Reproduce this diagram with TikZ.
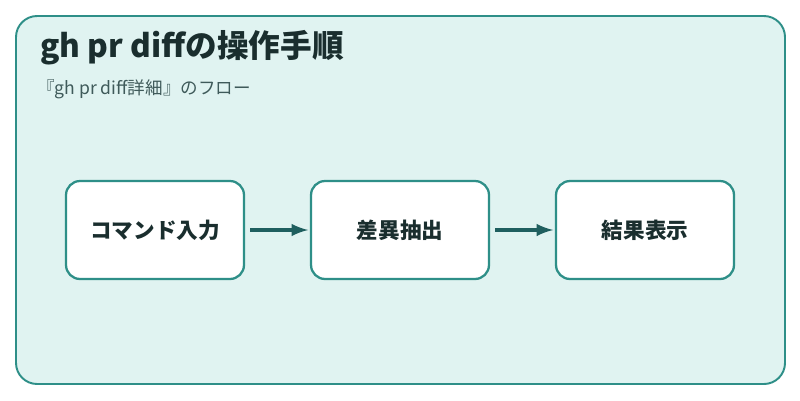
\documentclass[tikz,border=0pt]{standalone}
\usepackage{fontspec}
\setmainfont{Noto Sans CJK JP}
\usetikzlibrary{positioning}
\definecolor{bgteal}{HTML}{E0F3F1}
\definecolor{edgeteal}{HTML}{2E8F88}
\definecolor{arrowteal}{HTML}{1F5F5F}
\definecolor{titlecol}{HTML}{1A2E2E}
\definecolor{subcol}{HTML}{3F5A5A}
\tikzset{
  stepbox/.style={draw=edgeteal,line width=1.3pt,fill=white,rounded corners=8pt,
    minimum width=3.56cm,minimum height=1.96cm,font=\fontsize{12.3}{14}\selectfont\bfseries,text=titlecol},
  flow/.style={draw=arrowteal,line width=2.2pt,-latex}
}
\begin{document}
\begin{tikzpicture}[x=0.02cm,y=-0.02cm]
\useasboundingbox (0,0) rectangle (800,400);
\draw[edgeteal,fill=bgteal,line width=1.1pt,rounded corners=12pt] (16,16) rectangle (785,384);
\node[anchor=west,text=titlecol,font=\fontsize{18}{21}\selectfont\bfseries] (title) at (34,48) {gh pr diffの操作手順};
\node[anchor=west,text=subcol,font=\fontsize{10}{12}\selectfont] (sub) at (31,89) {『gh pr diff詳細』のフロー};

\node[stepbox] (cmd) at (155,230) {コマンド入力};
\node[stepbox] (diff) at (400,230) {差異抽出};
\node[stepbox] (res) at (645,230) {結果表示};

\draw[flow] ([xshift=3]cmd.east) -- ([xshift=-1]diff.west);
\draw[flow] ([xshift=3]diff.east) -- ([xshift=-1]res.west);
\end{tikzpicture}
\end{document}
